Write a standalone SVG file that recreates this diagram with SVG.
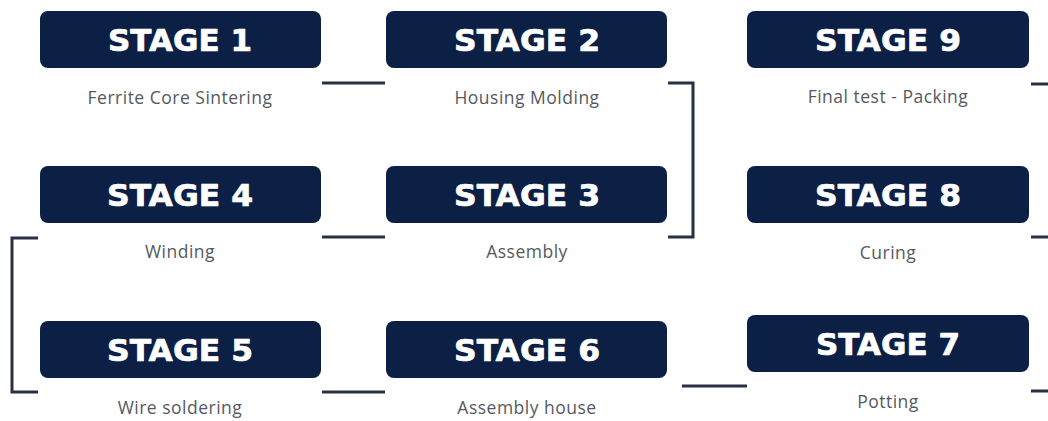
<svg xmlns="http://www.w3.org/2000/svg" width="1048" height="421" viewBox="0 0 1048 421">
  <style>
    .box { fill: #0c1f45; }
    .title { font-family: "DejaVu Sans", "Open Sans", "Liberation Sans", sans-serif; font-weight: bold; font-size: 30px; fill: #ffffff; stroke: #ffffff; stroke-width: 0.7px; stroke-linejoin: round; text-anchor: middle; }
    .sub { font-family: "Open Sans", "Noto Sans", "Liberation Sans", sans-serif; font-size: 17.5px; letter-spacing: 0.5px; fill: #55595f; text-anchor: middle; }
    .conn { fill: none; stroke: #283044; stroke-width: 3; }
  </style>
  <rect width="1048" height="421" fill="#ffffff"/>

  <!-- connectors -->
  <g id="connectors" class="conn">
    <path d="M322 83 H385"/>
    <path d="M668 83 H693 V237 H668"/>
    <path d="M385 237 H322"/>
    <path d="M38 238 H12 V392 H38"/>
    <path d="M322 392 H385"/>
    <path d="M682 386 H747"/>
    <path d="M1031 84 H1048"/>
    <path d="M1031 237 H1048"/>
    <path d="M1031 391 H1048"/>
  </g>

  <g id="stage1">
    <rect class="box" x="40" y="11" width="281" height="57" rx="8"/>
    <text class="title" x="180" y="51" textLength="144" lengthAdjust="spacingAndGlyphs">STAGE 1</text>
    <text class="sub" x="180" y="104">Ferrite Core Sintering</text>
  </g>
  <g id="stage2">
    <rect class="box" x="386" y="11" width="281" height="57" rx="8"/>
    <text class="title" x="527" y="51" textLength="146" lengthAdjust="spacingAndGlyphs">STAGE 2</text>
    <text class="sub" x="527" y="104">Housing Molding</text>
  </g>
  <g id="stage3">
    <rect class="box" x="386" y="166" width="281" height="57" rx="8"/>
    <text class="title" x="527" y="206" textLength="146" lengthAdjust="spacingAndGlyphs">STAGE 3</text>
    <text class="sub" x="527" y="258">Assembly</text>
  </g>
  <g id="stage4">
    <rect class="box" x="40" y="166" width="281" height="57" rx="8"/>
    <text class="title" x="180" y="206" textLength="146" lengthAdjust="spacingAndGlyphs">STAGE 4</text>
    <text class="sub" x="180" y="258">Winding</text>
  </g>
  <g id="stage5">
    <rect class="box" x="40" y="321" width="281" height="57" rx="8"/>
    <text class="title" x="180" y="361" textLength="146" lengthAdjust="spacingAndGlyphs">STAGE 5</text>
    <text class="sub" x="180" y="414">Wire soldering</text>
  </g>
  <g id="stage6">
    <rect class="box" x="386" y="321" width="281" height="57" rx="8"/>
    <text class="title" x="527" y="361" textLength="146" lengthAdjust="spacingAndGlyphs">STAGE 6</text>
    <text class="sub" x="527" y="414">Assembly house</text>
  </g>
  <g id="stage7">
    <rect class="box" x="747" y="315" width="282" height="57" rx="8"/>
    <text class="title" x="888" y="355" textLength="144" lengthAdjust="spacingAndGlyphs">STAGE 7</text>
    <text class="sub" x="888" y="408">Potting</text>
  </g>
  <g id="stage8">
    <rect class="box" x="747" y="166" width="282" height="57" rx="8"/>
    <text class="title" x="888" y="206" textLength="146" lengthAdjust="spacingAndGlyphs">STAGE 8</text>
    <text class="sub" x="888" y="259">Curing</text>
  </g>
  <g id="stage9">
    <rect class="box" x="747" y="11" width="282" height="57" rx="8"/>
    <text class="title" x="888" y="51" textLength="146" lengthAdjust="spacingAndGlyphs">STAGE 9</text>
    <text class="sub" x="888" y="103">Final test - Packing</text>
  </g>
</svg>
